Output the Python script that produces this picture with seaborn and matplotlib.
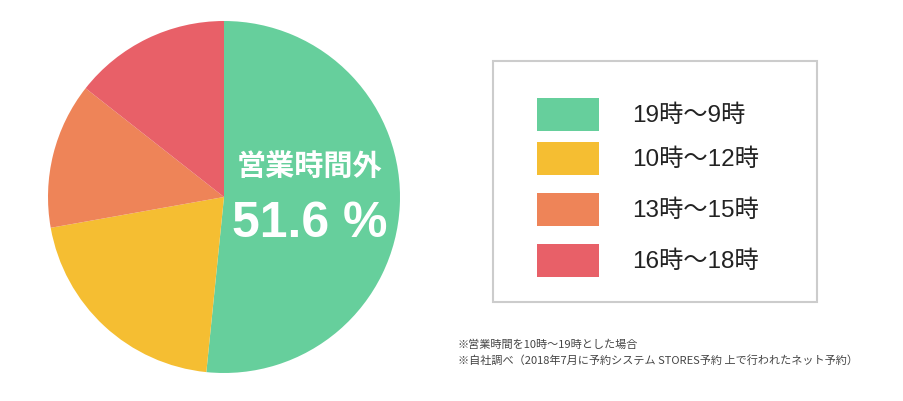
import seaborn as sns
import matplotlib.pyplot as plt
from matplotlib.patches import Rectangle

# 予約時間帯の割合 (%)
time_slots = ['19時〜9時', '10時〜12時', '13時〜15時', '16時〜18時']
shares = [51.6, 20.6, 13.4, 14.4]
slot_colors = ['#66cf9c', '#f5be32', '#ee8458', '#e86068']
center_title = '営業時間外'
center_value = '51.6 %'
notes = ['※営業時間を10時〜19時とした場合',
         '※自社調べ（2018年7月に予約システム STORES予約 上で行われたネット予約）']

sns.set_theme(style='white')
plt.rcParams['font.family'] = ['Noto Sans CJK JP', 'DejaVu Sans']

W, H = 904, 402
fig = plt.figure(figsize=(W / 100, H / 100), dpi=100)
fig.patch.set_facecolor('white')

# pie: center (224,198), radius 176 px
cx, cy, r = 224, 198, 176
ax = fig.add_axes([(cx - r) / W, (H - cy - r) / H, 2 * r / W, 2 * r / H])
wedges, _ = ax.pie(shares, colors=slot_colors, startangle=90, counterclock=False,
                   radius=1, wedgeprops={'linewidth': 0, 'edgecolor': 'none'})
ax.set_xlim(-1, 1)
ax.set_ylim(-1, 1)
ax.set_aspect('equal')
ax.axis('off')

ax.text((310 - cx) / r, (cy - 166) / r, center_title, color='white', fontsize=21,
        fontweight='bold', ha='center', va='center')
ax.text((310 - cx) / r, (cy - 224) / r, center_value, color='white', fontsize=36,
        fontweight='bold', ha='center', va='center',
        family=['Liberation Sans', 'DejaVu Sans'])

# legend box
fig.patches.append(Rectangle((493 / W, 1 - 303 / H), (817 - 493) / W, (303 - 62) / H,
                             transform=fig.transFigure, facecolor='white',
                             edgecolor='#cccccc', linewidth=1.5, zorder=0))

# legend rows (top edge of each swatch, px)
row_tops = [99, 143, 194, 245]
for top, label, color in zip(row_tops, time_slots, slot_colors):
    fig.patches.append(Rectangle((537 / W, 1 - (top + 33) / H), 62 / W, 33 / H,
                                 transform=fig.transFigure, facecolor=color,
                                 edgecolor='none', zorder=1))
    fig.text(632 / W, 1 - (top + 17) / H, label, fontsize=17.5, color='#222222',
             ha='left', va='center',
             family=['Liberation Sans', 'Noto Sans CJK JP'])

for i, note in enumerate(notes):
    fig.text(458 / W, 1 - (345 + 16 * i) / H, note, fontsize=8, color='#444444',
             ha='left', va='center')

fig.savefig('out.png', dpi=100, facecolor='white')
